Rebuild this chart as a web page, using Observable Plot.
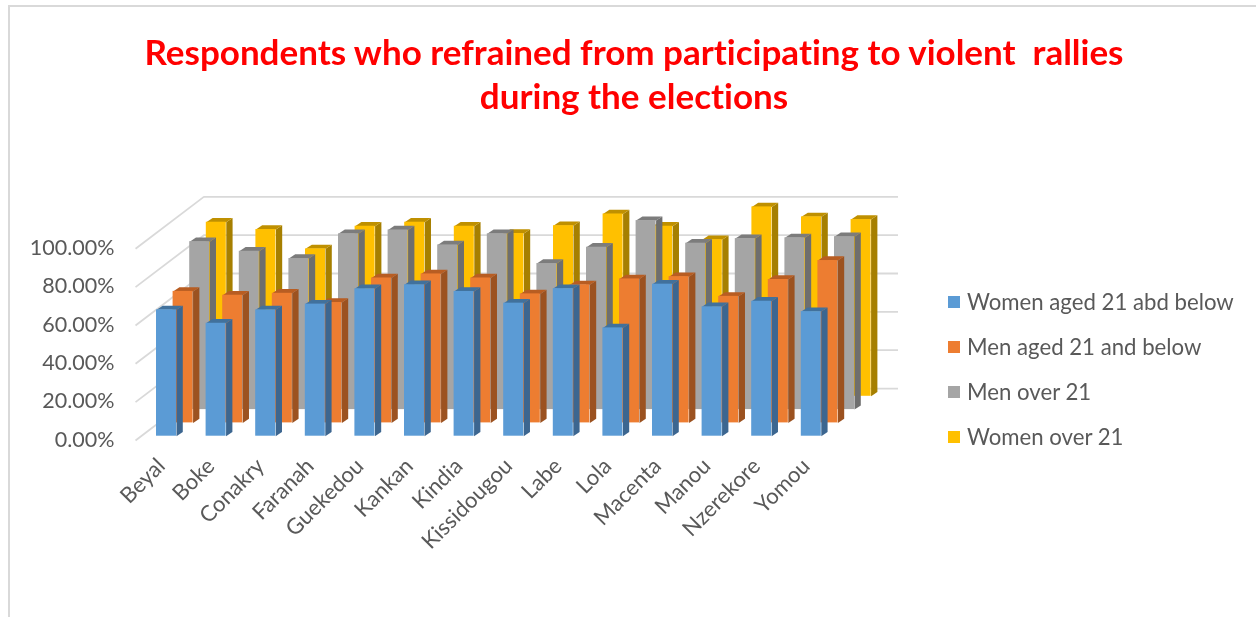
<!DOCTYPE html>
<html>
<head>
<meta charset="utf-8">
<script src="https://cdn.jsdelivr.net/npm/d3@7"></script>
<script src="https://cdn.jsdelivr.net/npm/@observablehq/plot@0.6"></script>
<style>
html,body{margin:0;padding:0;background:#fff;overflow:hidden}
#wrap{position:relative;width:1256px;height:617px;font-family:Lato,sans-serif;font-variant-ligatures:none;filter:blur(0.4px)}
#frame{position:absolute;left:8px;top:5px;right:-4px;bottom:-4px;border:2px solid #d9d9d9}
#title{position:absolute;left:0;top:29px;width:1268px;text-align:center;color:#f00;font-weight:700;font-size:35px;line-height:44px;white-space:pre}
#legend{position:absolute;left:948px;top:0;color:#595959;font-size:22.2px}
#legend div{position:absolute;left:0;white-space:nowrap;line-height:24px;height:24px}
#legend i{position:absolute;left:0;top:6px;width:12px;height:12px}
#legend span{position:absolute;left:19px;top:0}
svg{position:absolute;left:0;top:0}
</style>
</head>
<body>
<div id="wrap"><div id="frame"></div><div id="chart"></div>
<div id="title"></div>
<div id="legend"></div></div>
<script>
const categories = ["Beyal","Boke","Conakry","Faranah","Guekedou","Kankan","Kindia","Kissidougou","Labe","Lola","Macenta","Manou","Nzerekore","Yomou"];
const womenYoung = [65.9,58.9,65.9,68.9,76.9,79.0,75.5,69.4,77.0,56.5,79.3,67.5,70.4,65.0];
const menYoung   = [68.6,66.6,67.6,62.8,75.6,77.7,75.6,67.3,72.0,75.1,76.3,66.0,74.8,84.7];
const menOld     = [87.6,82.6,78.8,91.7,93.7,85.9,91.7,76.2,84.7,98.6,86.8,89.2,89.6,90.2];
const womenOld   = [90.8,87.0,76.9,88.7,90.8,88.7,84.9,89.0,95.1,88.7,81.7,98.8,93.6,92.2];
const seriesNames = ["Women aged 21 abd below","Men aged 21 and below","Men over 21","Women over 21"];
const seriesValues = [womenYoung,menYoung,menOld,womenOld];
const frontColors = ["#5b9bd5","#ed7d31","#a5a5a5","#ffc000"];
const sideColors  = ["#3c6690","#9c5220","#6e6e6e","#a67f00"];
const topColors   = ["#41719c","#b85d22","#7c7c7c","#bf9000"];
const yTicks = [0,20,40,60,80,100];
const titleLines = ["Respondents who refrained from participating to violent  rallies","during the elections"];

// Pseudo-3D geometry, in scale units: one x unit is a category, one y unit is a percentage point.
const barW = 0.403, faceDx = 0.127, faceDy = 2.19, rowDx = 0.3347, rowDy = 6.94;
const wallDx = 1.377, wallDy = 27.1, wallX = 0.954, wallEnd = 14.96, wallFront = -0.423;

const marks = [];
// Walls
marks.push(Plot.ruleY(yTicks, {x1: wallX, x2: wallEnd, y: d => d - 2.24 + wallDy, stroke: "#d9d9d9", strokeWidth: 1.8}));
marks.push(Plot.link(yTicks, {x1: wallFront, y1: d => d - 2.24, x2: wallX, y2: d => d - 2.24 + wallDy, stroke: "#d9d9d9", strokeWidth: 1.8}));

// Bars, back row first
for (let k = 3; k >= 0; k--) {
  const bars = seriesValues[k].map((v, i) => {
    const x0 = i + k * rowDx, y0 = k * rowDy;
    return {i, x0, x1: x0 + barW, y0, y1: y0 + v};
  });
  const side = bars.flatMap(b => [
    {id: b.i, x: b.x1, y: b.y0}, {id: b.i, x: b.x1 + faceDx, y: b.y0 + faceDy},
    {id: b.i, x: b.x1 + faceDx, y: b.y1 + faceDy}, {id: b.i, x: b.x1, y: b.y1}]);
  const top = bars.flatMap(b => [
    {id: b.i, x: b.x0, y: b.y1}, {id: b.i, x: b.x1, y: b.y1},
    {id: b.i, x: b.x1 + faceDx, y: b.y1 + faceDy}, {id: b.i, x: b.x0 + faceDx, y: b.y1 + faceDy}]);
  marks.push(Plot.line(side, {x: "x", y: "y", z: "id", fill: sideColors[k], stroke: "none", curve: "linear"}));
  marks.push(Plot.line(top, {x: "x", y: "y", z: "id", fill: topColors[k], stroke: "none", curve: "linear"}));
  marks.push(Plot.rect(bars, {x1: "x0", x2: "x1", y1: "y0", y2: "y1", fill: frontColors[k]}));
}

// Axes
marks.push(Plot.axisY({anchor: "left", ticks: yTicks, tickSize: 0, tickPadding: 0, tickFormat: d => d.toFixed(2) + "%", dy: 3.5, fontSize: 21.5, fill: "#595959", label: null}));
marks.push(Plot.text(categories, {x: (d, i) => i + 0.1, y: () => -13.7, text: d => d, rotate: -45, textAnchor: "end", fontSize: 22, fill: "#595959"}));

const chart = Plot.plot({
  width: 1256, height: 617, marginLeft: 114, marginTop: 0, marginRight: 0, marginBottom: 0,
  style: {background: "transparent", fontFamily: "Lato, sans-serif", overflow: "visible"},
  x: {domain: [0, 14], range: [156, 156 + 49.6 * 14], axis: null},
  y: {domain: [0, 100], range: [435.7, 244], axis: null},
  marks
});
document.getElementById("chart").append(chart);
document.getElementById("title").textContent = titleLines.join("\n");
const legend = document.getElementById("legend");
const legendTops = [290, 335, 380, 425];
seriesNames.forEach((n, k) => {
  const d = document.createElement("div");
  d.style.top = legendTops[k] + "px";
  const sw = document.createElement("i"); sw.style.background = frontColors[k];
  const t = document.createElement("span"); t.textContent = n;
  d.append(sw, t); legend.append(d);
});
</script>
</body>
</html>
